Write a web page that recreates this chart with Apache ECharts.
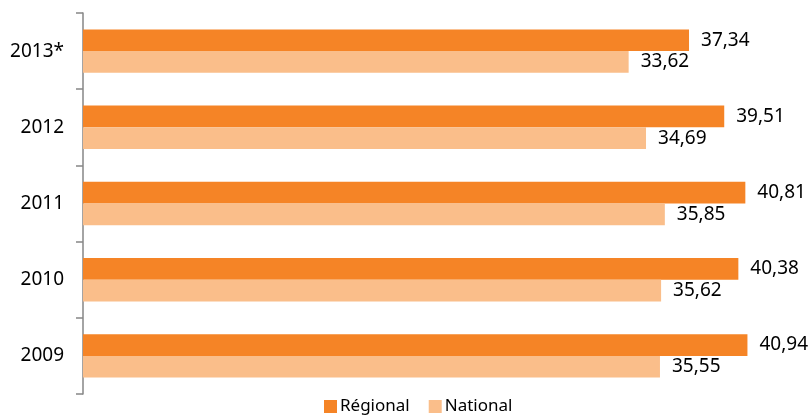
<!DOCTYPE html>
<html>
<head>
<meta charset="utf-8">
<script src="https://cdn.jsdelivr.net/npm/echarts@6/dist/echarts.min.js"></script>
<style>html,body{margin:0;padding:0;background:#fff}#c{width:810px;height:416px}</style>
</head>
<body>
<div id="c"></div>
<script>
var categories = ['2013*', '2012', '2011', '2010', '2009'];
var regional = [37.34, 39.51, 40.81, 40.38, 40.94];
var national = [33.62, 34.69, 35.85, 35.62, 35.55];
var seriesNames = ['Régional', 'National'];

var chart = echarts.init(document.getElementById('c'));
var font = 'Noto Sans';
function fmt(p) { return p.value.toFixed(2).replace('.', ','); }
chart.setOption({
  animation: false,
  textStyle: { fontFamily: font },
  grid: { left: 83, right: 15, top: 13, bottom: 22 },
  legend: {
    data: seriesNames,
    top: 398,
    left: 324,
    padding: 0,
    itemWidth: 13,
    itemHeight: 13,
    itemGap: 19,
    icon: 'rect',
    textStyle: { fontFamily: font, fontSize: 17, color: '#000', padding: [0, 0, 0, -2] }
  },
  xAxis: {
    type: 'value', min: 0, max: 43.87, show: false
  },
  yAxis: {
    type: 'category',
    data: categories,
    inverse: true,
    axisLine: { lineStyle: { color: '#868686', width: 1.5 } },
    axisTick: { show: true, length: 7, lineStyle: { color: '#868686', width: 1.5 } },
    axisLabel: { color: '#000', fontSize: 19, fontFamily: font, margin: 19 }
  },
  series: [
    {
      name: seriesNames[0], type: 'bar', data: regional,
      barGap: '0%', barCategoryGap: '43%',
      itemStyle: { color: '#F58426' },
      label: { show: true, position: 'right', distance: 12, formatter: fmt, color: '#000', fontSize: 19, fontFamily: font }
    },
    {
      name: seriesNames[1], type: 'bar', data: national,
      barGap: '0%', barCategoryGap: '43%',
      itemStyle: { color: '#FABE8A' },
      label: { show: true, position: 'right', distance: 12, formatter: fmt, color: '#000', fontSize: 19, fontFamily: font }
    }
  ]
});
</script>
</body>
</html>
